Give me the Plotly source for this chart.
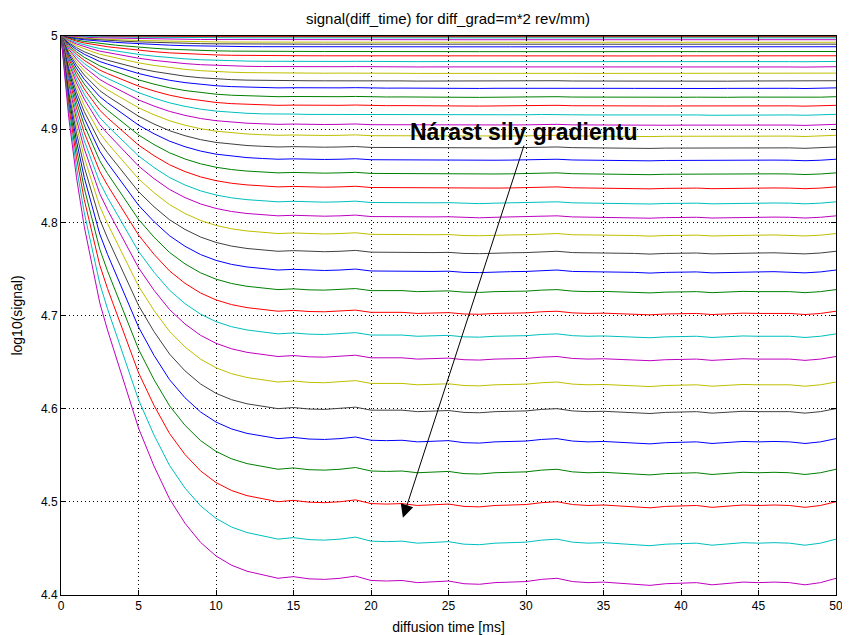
import plotly.graph_objects as go

# ---- data ----
# diffusion times (ms) at which the shared decay profile was read
time_ms = [0, 0.5, 1, 1.5, 2, 2.5, 3, 3.5, 4, 5, 6, 7, 8, 9, 10,
           11, 12, 13, 14, 15, 16, 17, 18, 19, 20, 21, 22, 23, 24, 25,
           26, 27, 28, 29, 30, 31, 32, 33, 34, 35, 36, 37, 38, 39, 40,
           41, 42, 43, 44, 45, 46, 47, 48, 49, 50]

# normalised signal drop (1 = plateau level)
decay_profile = [0, 0.15, 0.26, 0.35, 0.42, 0.49, 0.54, 0.585, 0.63, 0.72, 0.79, 0.85, 0.895, 0.93, 0.955,
                 0.972, 0.983, 0.990, 0.996, 0.993, 0.997, 0.998, 0.996, 0.992, 1.000, 1.001, 1.000, 1.004, 1.002, 1.001,
                 1.006, 1.007, 1.004, 1.003, 1.002, 0.998, 0.996, 1.002, 1.004, 1.003, 1.005, 1.006, 1.009, 1.006, 1.005,
                 1.004, 1.008, 1.006, 1.003, 1.004, 1.003, 1.004, 1.008, 1.004, 0.996]

# plateau level log10(signal) of each curve, m = 0 .. 39
plateau_log10 = [5.0000, 4.9998, 4.9990, 4.9980, 4.9960, 4.9933, 4.9912, 4.9884, 4.9833, 4.9787,
                 4.9726, 4.9669, 4.9600, 4.9518, 4.9441, 4.9346, 4.9253, 4.9156, 4.9048, 4.8930,
                 4.8804, 4.8672, 4.8525, 4.8374, 4.8213, 4.8062, 4.7871, 4.7680, 4.7478, 4.7267,
                 4.7034, 4.6790, 4.6546, 4.6271, 4.5984, 4.5661, 4.5331, 4.4981, 4.4578, 4.4156]

start_level = 5.0

line_colors = ["#0000ff", "#008000", "#ff0000", "#00bfbf", "#bf00bf", "#bfbf00", "#404040"]

x_ticks = [0, 5, 10, 15, 20, 25, 30, 35, 40, 45, 50]
y_ticks = [4.4, 4.5, 4.6, 4.7, 4.8, 4.9, 5.0]
y_tick_text = ["4.4", "4.5", "4.6", "4.7", "4.8", "4.9", "5"]

title_text = "signal(diff_time) for diff_grad=m*2 rev/mm)"
x_title = "diffusion time [ms]"
y_title = "log10(signal)"
note_text = "<b>Nárast sily gradientu</b>"
arrow_tail = (29.9, 4.884)
arrow_head = (22.06, 4.483)
note_pos = (29.9, 4.897)

FONT = "Arial, Liberation Sans"

# ---- figure ----
fig = go.Figure()
for m, plateau in enumerate(plateau_log10):
    drop = start_level - plateau
    ys = [start_level - drop * p for p in decay_profile]
    fig.add_trace(go.Scatter(
        x=time_ms, y=ys, mode="lines",
        line=dict(color=line_colors[m % len(line_colors)], width=1),
        showlegend=False, hoverinfo="skip"))

axis_common = dict(
    showline=True, linecolor="black", linewidth=1, mirror="ticks",
    ticks="inside", ticklen=5, tickcolor="black",
    showgrid=True, gridcolor="black", gridwidth=1, griddash="1px,3px",
    zeroline=False, automargin=False,
    tickfont=dict(family=FONT, size=12, color="black"),
)

fig.update_xaxes(range=[0, 50], tickvals=x_ticks,
                 title=dict(text=x_title, standoff=9,
                            font=dict(family=FONT, size=14, color="black")),
                 **axis_common)
fig.update_yaxes(range=[4.4, 5.0], tickvals=y_ticks, ticktext=y_tick_text,
                 title=dict(text=y_title, standoff=15,
                            font=dict(family=FONT, size=14, color="black")),
                 **axis_common)

fig.add_annotation(x=arrow_head[0], y=arrow_head[1], ax=arrow_tail[0], ay=arrow_tail[1],
                   xref="x", yref="y", axref="x", ayref="y",
                   text="", showarrow=True, arrowhead=2, arrowsize=2.6, arrowwidth=1,
                   arrowcolor="black", standoff=0, startstandoff=0)
fig.add_annotation(x=note_pos[0], y=note_pos[1], xref="x", yref="y",
                   text=note_text, showarrow=False,
                   font=dict(family=FONT, size=23, color="black"),
                   xanchor="center", yanchor="middle")

fig.update_layout(
    width=850, height=635,
    margin=dict(l=53, r=22, t=28, b=48, pad=0),
    paper_bgcolor="white", plot_bgcolor="white",
    title=dict(text=title_text, x=(448 - 8) / 850, xanchor="center", y=1 - 11 / 635, yanchor="middle",
               yref="container",
               font=dict(family=FONT, size=15, color="black")),
    showlegend=False,
)

fig.write_html("out.html")
